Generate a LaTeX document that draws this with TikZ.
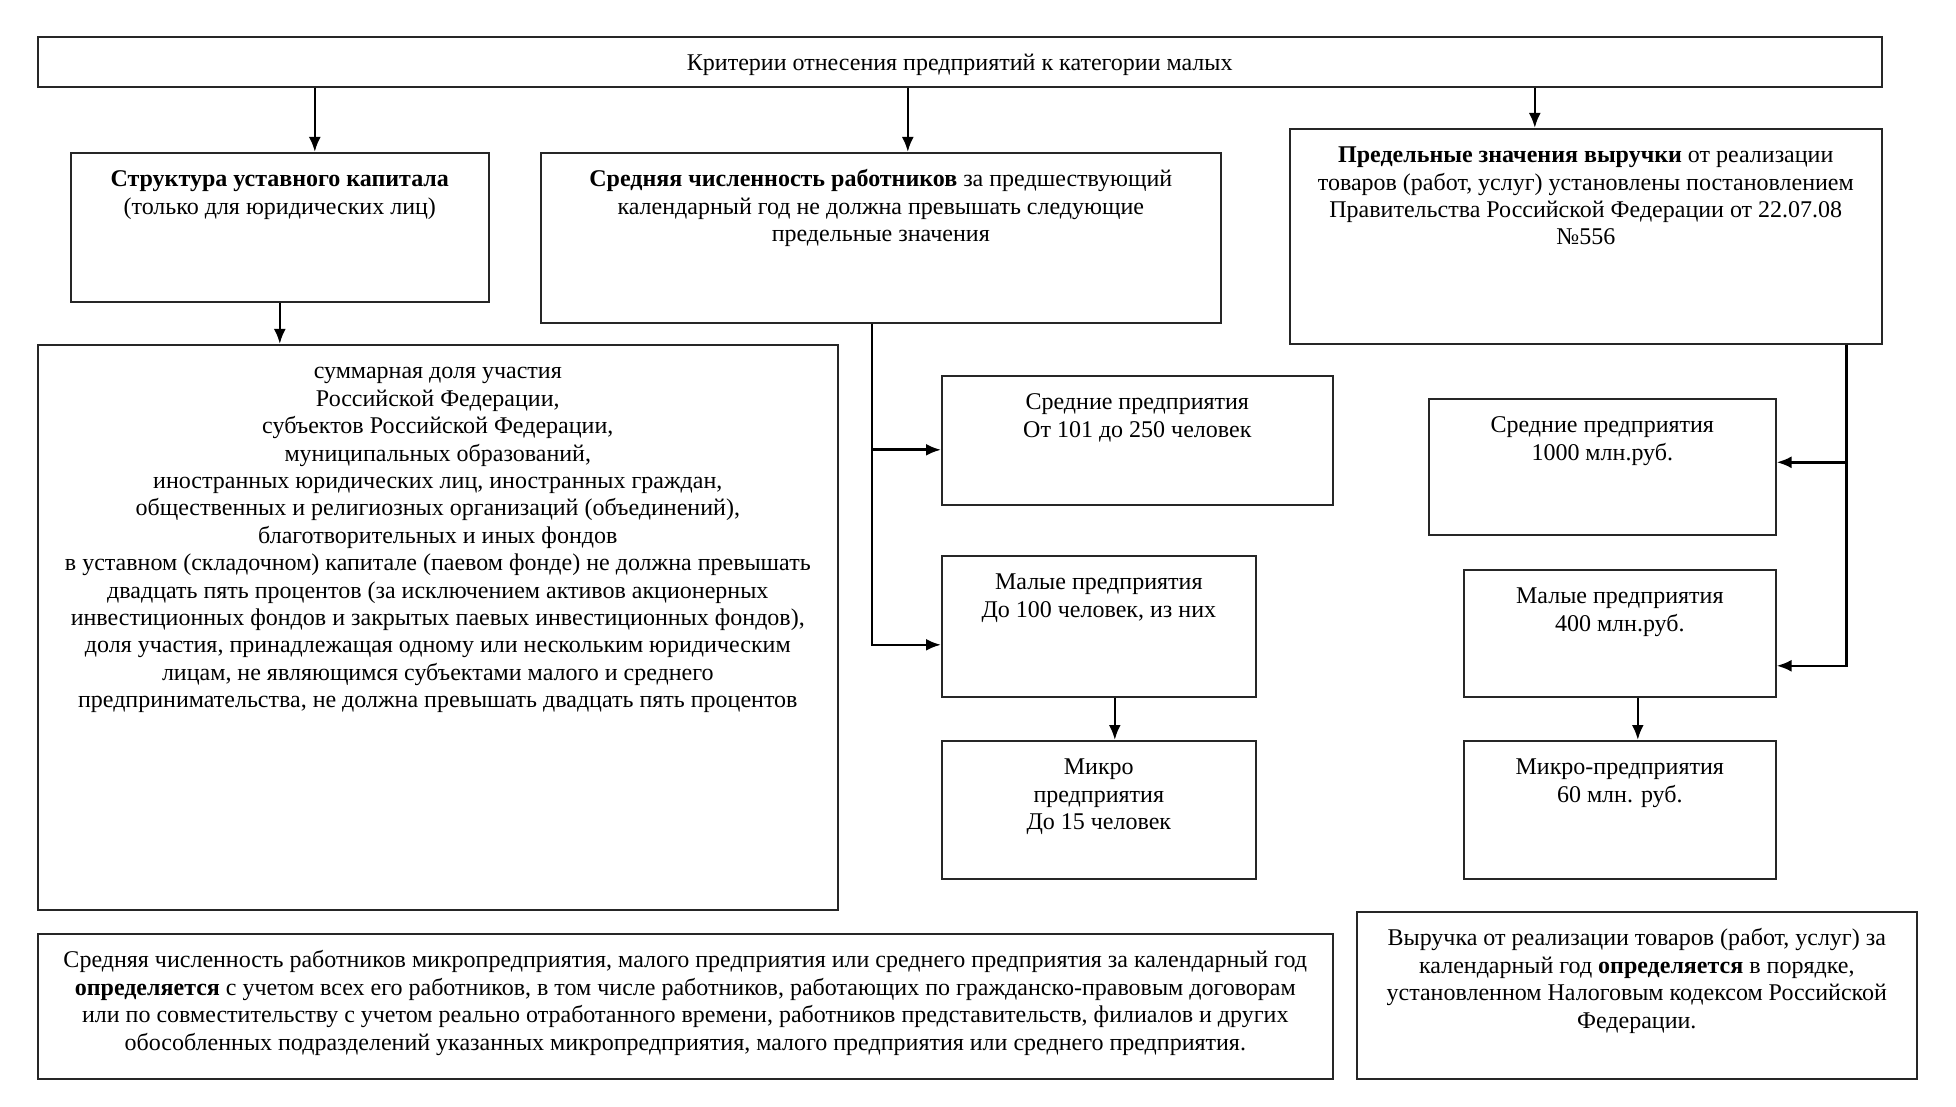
\documentclass[tikz,border=0pt]{standalone}
\usepackage{fontspec}
\setmainfont{Liberation Serif}
\usepackage{tikz}
\usetikzlibrary{positioning,arrows.meta}

\newcommand{\boxtxt}[3]{\parbox[c][#2][t]{#1}{\centering\rule{0pt}{17pt}#3}}

\begin{document}
\begin{tikzpicture}[x=0.5pt, y=-0.5pt, >={Latex[length=7.5pt,width=6pt]},
                      every node/.style={font=\fontsize{12}{13.7}\selectfont},
                      blk/.style={draw=black!85, line width=0.8pt, inner sep=0pt, anchor=north west},
                      every path/.style={line width=1.3pt}]
  \useasboundingbox (0,0) rectangle (1956,1107);
  \node[blk] (top) at (37,36) {\boxtxt{922pt}{25pt}{Критерии отнесения предприятий  к категории малых}};
  \node[blk] (struct) at (70,152) {\boxtxt{209pt}{74.5pt}{\textbf{Структура уставного капитала}\\(только для юридических лиц)}};
  \node[blk] (sredn) at (540,152) {\boxtxt{340pt}{85pt}{\textbf{Средняя численность работников} за предшествующий\\календарный год не должна превышать следующие\\предельные значения}};
  \node[blk] (predel) at (1289,128) {\boxtxt{296pt}{107.5pt}{\textbf{Предельные значения выручки} от реализации\\товаров (работ, услуг) установлены постановлением\\Правительства Российской Федерации от 22.07.08\\№556}};
  \node[blk] (summ) at (37,344) {\boxtxt{400pt}{282.5pt}{суммарная доля участия\\Российской Федерации,\\субъектов Российской Федерации,\\муниципальных образований,\\иностранных юридических лиц, иностранных граждан,\\общественных и религиозных организаций (объединений),\\благотворительных и иных фондов\\в уставном (складочном) капитале (паевом фонде) не должна превышать\\двадцать пять процентов (за исключением активов акционерных\\инвестиционных фондов и закрытых паевых инвестиционных фондов),\\доля участия, принадлежащая одному или нескольким юридическим\\лицам, не являющимся субъектами малого и среднего\\предпринимательства, не должна превышать двадцать пять процентов}};
  \node[blk] (sremp) at (941,375) {\boxtxt{195.5pt}{64.5pt}{Средние предприятия\\От 101 до 250 человек}};
  \node[blk] (malemp) at (941,555) {\boxtxt{157pt}{70.5pt}{Малые предприятия\\До 100 человек, из них}};
  \node[blk] (micemp) at (941,740) {\boxtxt{157pt}{69pt}{Микро\\предприятия\\До 15 человек}};
  \node[blk] (srrev) at (1428,398) {\boxtxt{173.5pt}{68pt}{Средние предприятия\\1000 млн.руб.}};
  \node[blk] (malrev) at (1463,569) {\boxtxt{156pt}{63.5pt}{Малые предприятия\\400 млн.руб.}};
  \node[blk] (micrev) at (1463,740) {\boxtxt{156pt}{69pt}{Микро-предприятия\\60 млн. руб.}};
  \node[blk] (botl) at (37,933) {\boxtxt{647.5pt}{72.5pt}{Средняя численность работников микропредприятия, малого предприятия или среднего предприятия за календарный год\\\textbf{определяется} с учетом всех его работников, в том числе работников, работающих по гражданско-правовым договорам\\или по совместительству с учетом реально отработанного времени, работников представительств, филиалов и других\\обособленных подразделений указанных микропредприятия, малого предприятия или среднего предприятия.}};
  \node[blk] (botr) at (1356,911) {\boxtxt{280pt}{83.5pt}{Выручка от реализации товаров (работ, услуг) за\\календарный год \textbf{определяется} в порядке,\\установленном Налоговым кодексом Российской\\Федерации.}};
  \coordinate (instruct) at ([xshift=17.5pt]struct.north);
  \coordinate (insredn) at ([xshift=13.5pt]sredn.north);
  \coordinate (inpredel) at ([xshift=-25.5pt]predel.north);
  \coordinate (etrunk) at ([xshift=-4.5pt]sredn.south);
  \coordinate (rtrunk) at ([xshift=-18pt]predel.south east);
  \draw[->] (top.south -| instruct) -- (instruct);
  \draw[->] (top.south -| insredn) -- (insredn);
  \draw[->] (top.south -| inpredel) -- (inpredel);
  \draw[->] (struct.south) -- (struct.south |- summ.north);
  \draw[->] (etrunk) |- ([yshift=-4.75pt]sremp.west);
  \draw[->] (etrunk) |- ([yshift=-9.25pt]malemp.west);
  \draw[->] ([xshift=8pt]malemp.south) -- ([xshift=8pt]malemp.south |- micemp.north);
  \draw[->] (rtrunk) |- ([yshift=2.25pt]srrev.east);
  \draw[->] (rtrunk) |- ([yshift=-16.25pt]malrev.east);
  \draw[->] ([xshift=9pt]malrev.south) -- ([xshift=9pt]malrev.south |- micrev.north);
\end{tikzpicture}
\end{document}
